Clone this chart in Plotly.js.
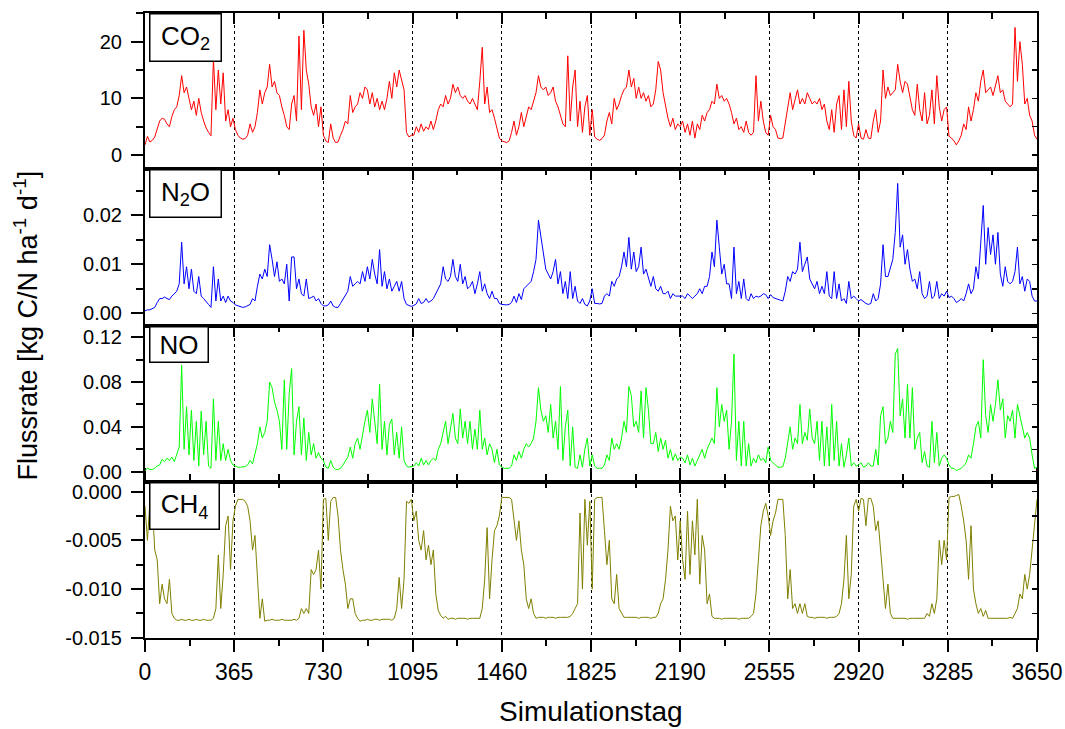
<!DOCTYPE html>
<html>
<head>
<meta charset="utf-8">
<script src="https://cdn.plot.ly/plotly-3.0.1.min.js"></script>
<style>html,body{margin:0;padding:0;background:#fff;}#chart{width:1065px;height:729px;}</style>
</head>
<body>
<div id="chart"></div>
<script>
// ---- data: daily flux values sampled every 10 simulation days (day 0 .. 3650) ----
const sampleStep = 10;

const co2Flux = [
 1.8,3.3,2.3,2.6,3.2,4.5,6.0,6.5,6.3,5.5,
 5.0,6.8,8.0,8.5,10.5,14.0,11.0,12.0,10.0,8.0,
 9.5,7.0,10.0,7.5,6.0,4.8,4.0,3.4,17.0,8.0,
 15.0,9.0,14.5,6.0,8.0,5.0,6.5,4.5,3.5,3.0,
 2.8,2.9,3.5,5.5,4.0,5.0,7.5,11.5,9.0,11.0,
 12.0,16.0,12.0,13.0,11.0,10.5,8.5,7.0,5.0,4.5,
 9.0,10.5,6.0,21.0,8.0,22.0,15.0,12.5,8.5,7.0,
 9.0,5.0,8.5,3.5,2.5,2.2,5.5,3.0,2.2,2.3,
 3.5,4.5,6.0,5.5,10.5,7.5,8.5,9.0,11.0,10.0,
 12.0,11.5,9.0,11.0,8.5,10.0,8.0,9.5,8.0,10.0,
 13.0,10.0,14.5,12.0,15.0,13.0,11.5,4.0,3.2,3.5,
 3.5,5.0,4.0,5.5,4.2,5.0,4.5,6.0,4.5,6.0,
 8.0,9.0,8.5,10.5,9.0,10.0,12.5,11.0,12.0,10.5,
 10.0,10.5,9.5,9.0,10.0,9.0,8.0,13.0,19.0,9.0,
 12.0,7.5,8.0,6.5,4.5,3.0,2.5,2.3,2.2,2.5,
 4.0,6.0,3.5,5.0,7.5,5.0,7.0,8.5,8.0,9.5,
 11.0,14.0,12.0,11.5,12.0,10.5,11.0,12.0,9.5,8.5,
 7.0,5.5,5.0,17.5,6.0,12.0,15.0,5.0,9.5,4.0,
 8.5,10.5,3.5,8.0,3.2,2.8,2.6,2.9,3.5,6.0,
 7.5,5.5,10.0,8.0,9.0,10.5,11.5,12.0,15.0,12.0,
 13.5,10.0,12.0,10.0,11.0,9.5,10.5,8.5,9.0,11.5,
 16.5,15.0,11.0,8.5,6.5,5.0,6.5,4.5,5.5,5.0,
 6.0,4.0,5.5,3.5,6.0,3.0,5.5,4.5,7.0,6.0,
 7.5,8.0,9.5,9.0,12.5,10.0,10.5,9.5,10.0,9.0,
 7.5,5.5,6.5,4.5,5.0,4.0,6.0,4.0,3.5,4.0,
 14.0,6.0,9.5,6.0,4.0,3.5,7.0,5.0,4.5,3.0,
 2.9,3.0,5.5,8.5,11.0,8.0,10.0,11.5,9.0,10.0,
 9.0,11.0,10.0,9.0,9.5,9.0,10.0,8.0,9.0,6.0,
 4.5,8.0,4.0,9.0,10.5,4.5,11.5,5.0,13.0,6.0,
 3.5,3.0,5.5,3.0,2.8,4.5,3.0,2.9,6.0,8.0,
 4.0,6.0,15.0,10.0,12.0,10.5,11.0,11.5,16.0,13.0,
 11.0,13.0,12.5,10.0,8.0,7.0,12.5,8.0,6.0,11.0,
 5.5,7.0,11.5,5.5,14.0,8.5,6.0,8.0,8.5,3.3,
 3.0,2.5,1.8,2.5,3.5,5.5,4.5,8.5,6.0,8.0,
 11.0,9.5,13.0,15.0,11.0,11.5,12.0,10.5,12.5,14.0,
 11.0,11.5,9.5,9.0,8.5,9.0,22.5,13.0,20.0,16.0,
 9.0,10.0,7.0,6.0,3.5,2.8
];

const n2oFlux = [
 .0005,.0007,.0007,.0009,.0012,.0022,.0030,.0030,.0033,.0030,
 .0028,.0035,.0040,.0045,.0060,.0145,.0060,.0095,.0050,.0090,
 .0045,.0040,.0075,.0035,.0030,.0025,.0018,.0012,.0095,.0025,
 .0070,.0025,.0035,.0022,.0035,.0025,.0022,.0017,.0015,.0013,
 .0012,.0013,.0015,.0018,.0030,.0025,.0055,.0080,.0070,.0090,
 .0075,.0140,.0110,.0075,.0105,.0065,.0070,.0060,.0100,.0025,
 .0115,.0115,.0050,.0070,.0040,.0035,.0070,.0030,.0032,.0035,
 .0025,.0030,.0020,.0015,.0015,.0017,.0025,.0015,.0012,.0012,
 .0020,.0028,.0035,.0045,.0075,.0055,.0060,.0065,.0060,.0085,
 .0065,.0095,.0070,.0110,.0080,.0060,.0130,.0055,.0085,.0050,
 .0070,.0045,.0055,.0065,.0045,.0065,.0030,.0018,.0016,.0014,
 .0016,.0019,.0030,.0020,.0022,.0030,.0022,.0025,.0030,.0040,
 .0050,.0060,.0095,.0070,.0065,.0075,.0110,.0075,.0065,.0100,
 .0060,.0075,.0050,.0055,.0065,.0040,.0060,.0085,.0045,.0060,
 .0040,.0030,.0045,.0030,.0030,.0020,.0018,.0017,.0017,.0018,
 .0022,.0035,.0022,.0040,.0028,.0050,.0055,.0060,.0065,.0085,
 .0110,.0190,.0155,.0125,.0090,.0080,.0070,.0085,.0110,.0060,
 .0085,.0040,.0065,.0030,.0085,.0030,.0055,.0025,.0020,.0030,
 .0018,.0015,.0025,.0050,.0020,.0020,.0019,.0020,.0035,.0040,
 .0035,.0065,.0055,.0070,.0075,.0095,.0125,.0095,.0155,.0090,
 .0125,.0085,.0095,.0135,.0080,.0090,.0070,.0055,.0075,.0050,
 .0045,.0055,.0040,.0040,.0045,.0030,.0040,.0035,.0035,.0035,
 .0035,.0030,.0040,.0035,.0030,.0035,.0040,.0050,.0040,.0055,
 .0055,.0075,.0125,.0095,.0190,.0135,.0080,.0100,.0060,.0060,
 .0030,.0135,.0040,.0065,.0030,.0070,.0030,.0025,.0040,.0030,
 .0035,.0033,.0035,.0040,.0038,.0030,.0038,.0032,.0030,.0028,
 .0027,.0025,.0045,.0075,.0065,.0085,.0080,.0090,.0145,.0085,
 .0100,.0115,.0070,.0060,.0050,.0065,.0040,.0055,.0040,.0085,
 .0035,.0030,.0085,.0030,.0060,.0025,.0030,.0020,.0065,.0030,
 .0035,.0030,.0025,.0028,.0024,.0020,.0018,.0020,.0040,.0025,
 .0030,.0060,.0140,.0075,.0075,.0095,.0110,.0165,.0265,.0135,
 .0160,.0100,.0130,.0090,.0065,.0070,.0050,.0085,.0040,.0030,
 .0035,.0065,.0030,.0035,.0065,.0030,.0040,.0035,.0045,.0032,
 .0035,.0030,.0022,.0025,.0030,.0025,.0040,.0060,.0040,.0050,
 .0095,.0070,.0145,.0220,.0100,.0175,.0120,.0160,.0100,.0165,
 .0080,.0055,.0095,.0065,.0060,.0065,.0085,.0135,.0060,.0075,
 .0045,.0070,.0065,.0035,.0025,.0025
];

const noFlux = [
 .001,.003,.002,.002,.003,.005,.006,.011,.009,.012,
 .010,.013,.009,.016,.022,.095,.020,.058,.015,.055,
 .010,.045,.005,.054,.015,.045,.005,.003,.065,.010,
 .045,.010,.025,.010,.020,.010,.006,.005,.004,.004,
 .004,.0045,.006,.010,.007,.015,.025,.040,.030,.035,
 .045,.080,.075,.062,.055,.045,.020,.082,.020,.070,
 .092,.015,.045,.058,.015,.048,.010,.035,.015,.025,
 .012,.017,.012,.010,.004,.003,.010,.004,.002,.002,
 .003,.006,.010,.013,.022,.012,.025,.030,.020,.033,
 .045,.055,.035,.065,.045,.025,.078,.020,.045,.015,
 .042,.047,.015,.035,.012,.040,.010,.005,.004,.0045,
 .005,.008,.005,.012,.006,.010,.006,.010,.012,.010,
 .020,.025,.035,.045,.025,.040,.052,.030,.025,.056,
 .030,.045,.025,.045,.020,.038,.020,.055,.020,.030,
 .015,.025,.020,.008,.020,.006,.004,.003,.003,.003,
 .005,.015,.010,.018,.012,.020,.025,.022,.025,.030,
 .045,.075,.055,.045,.050,.035,.060,.030,.045,.020,
 .076,.010,.040,.055,.005,.040,.004,.003,.015,.004,
 .020,.030,.005,.015,.005,.003,.003,.003,.006,.015,
 .010,.030,.020,.025,.020,.030,.045,.035,.076,.068,
 .040,.045,.035,.072,.030,.075,.055,.025,.025,.035,
 .018,.030,.020,.028,.012,.020,.010,.016,.010,.013,
 .012,.008,.015,.006,.012,.005,.010,.015,.020,.012,
 .020,.025,.030,.025,.075,.040,.060,.045,.055,.020,
 .045,.105,.010,.045,.005,.045,.005,.025,.005,.012,
 .008,.015,.010,.012,.008,.022,.010,.008,.006,.004,
 .004,.0045,.012,.025,.040,.020,.030,.025,.060,.025,
 .035,.028,.056,.030,.025,.045,.010,.045,.005,.040,
 .005,.060,.010,.045,.005,.025,.004,.015,.030,.005,
 .008,.005,.006,.008,.004,.005,.008,.005,.005,.020,
 .006,.050,.058,.025,.030,.045,.035,.105,.110,.050,
 .065,.030,.078,.030,.075,.020,.030,.035,.008,.018,
 .005,.004,.045,.008,.035,.005,.012,.015,.012,.006,
 .003,.003,.001,.002,.003,.005,.008,.015,.012,.025,
 .040,.045,.030,.100,.050,.035,.060,.045,.060,.082,
 .055,.065,.030,.050,.045,.055,.030,.060,.050,.040,
 .030,.035,.030,.015,.003,.004
];

const ch4Flux = [
 -.0015,-.0050,-.0010,-.0015,-.0060,-.0070,-.0115,-.0095,-.0110,-.0115,
 -.0090,-.0125,-.0130,-.0132,-.0132,-.0131,-.0132,-.0132,-.0131,-.0132,
 -.0132,-.0131,-.0132,-.0132,-.0131,-.0132,-.0132,-.0132,-.0130,-.0120,
 -.0065,-.0120,-.0085,-.0035,-.0025,-.0080,-.0030,-.0015,-.0008,-.0008,
 -.0008,-.0010,-.0015,-.0030,-.0060,-.0045,-.0085,-.0130,-.0110,-.0133,
 -.0132,-.0132,-.0131,-.0132,-.0132,-.0132,-.0131,-.0132,-.0132,-.0132,
 -.0132,-.0131,-.0132,-.0130,-.0120,-.0125,-.0120,-.0125,-.0080,-.0085,
 -.0080,-.0060,-.0100,-.0008,-.0007,-.0050,-.0010,-.0006,-.0006,-.0025,
 -.0060,-.0080,-.0095,-.0120,-.0110,-.0110,-.0125,-.0130,-.0133,-.0132,
 -.0132,-.0131,-.0132,-.0132,-.0131,-.0131,-.0132,-.0131,-.0131,-.0131,
 -.0131,-.0132,-.0130,-.0120,-.0088,-.0120,-.0090,-.0010,-.0012,-.0008,
 -.0030,-.0020,-.0050,-.0060,-.0040,-.0070,-.0055,-.0075,-.0060,-.0105,
 -.0122,-.0127,-.0130,-.0128,-.0131,-.0130,-.0130,-.0131,-.0130,-.0130,
 -.0130,-.0130,-.0131,-.0130,-.0130,-.0130,-.0130,-.0130,-.0120,-.0090,
 -.0037,-.0110,-.0070,-.0040,-.0035,-.0025,-.0006,-.0006,-.0006,-.0006,
 -.0008,-.0030,-.0050,-.0030,-.0060,-.0075,-.0110,-.0120,-.0110,-.0125,
 -.0130,-.0129,-.0129,-.0129,-.0130,-.0129,-.0129,-.0129,-.0130,-.0129,
 -.0129,-.0129,-.0129,-.0129,-.0128,-.0125,-.0120,-.0115,-.0022,-.0100,
 -.0008,-.0055,-.0010,-.0100,-.0008,-.0006,-.0006,-.0006,-.0040,-.0075,
 -.0050,-.0110,-.0115,-.0085,-.0120,-.0125,-.0129,-.0129,-.0129,-.0129,
 -.0129,-.0129,-.0130,-.0129,-.0129,-.0129,-.0129,-.0130,-.0129,-.0129,
 -.0125,-.0115,-.0110,-.0090,-.0060,-.0015,-.0030,-.0025,-.0070,-.0030,
 -.0070,-.0090,-.0020,-.0085,-.0030,-.0065,-.0008,-.0095,-.0045,-.0060,
 -.0115,-.0105,-.0128,-.0130,-.0130,-.0130,-.0131,-.0130,-.0130,-.0130,
 -.0130,-.0130,-.0130,-.0131,-.0130,-.0130,-.0130,-.0130,-.0128,-.0125,
 -.0105,-.0065,-.0035,-.0020,-.0012,-.0025,-.0045,-.0030,-.0022,-.0008,
 -.0008,-.0008,-.0045,-.0110,-.0080,-.0120,-.0115,-.0125,-.0115,-.0125,
 -.0115,-.0128,-.0129,-.0129,-.0130,-.0129,-.0129,-.0129,-.0129,-.0130,
 -.0129,-.0129,-.0129,-.0128,-.0125,-.0115,-.0090,-.0045,-.0110,-.0085,
 -.0015,-.0008,-.0020,-.0007,-.0008,-.0035,-.0007,-.0007,-.0015,-.0040,
 -.0030,-.0060,-.0090,-.0120,-.0095,-.0125,-.0130,-.0130,-.0130,-.0130,
 -.0130,-.0130,-.0131,-.0130,-.0130,-.0130,-.0130,-.0130,-.0130,-.0130,
 -.0125,-.0128,-.0115,-.0125,-.0110,-.0050,-.0075,-.0050,-.0070,-.0006,
 -.0005,-.0005,-.0004,-.0003,-.0015,-.0030,-.0050,-.0090,-.0035,-.0100,
 -.0115,-.0125,-.0120,-.0128,-.0122,-.0130,-.0130,-.0130,-.0130,-.0130,
 -.0130,-.0130,-.0130,-.0130,-.0129,-.0130,-.0125,-.0120,-.0105,-.0110,
 -.0085,-.0100,-.0085,-.0060,-.0040,-.0008
];

const panelLabels = ['CO<sub>2</sub>', 'N<sub>2</sub>O', 'NO', 'CH<sub>4</sub>'];
const co2TickVals = [0, 10, 20];
const co2TickText = ['0', '10', '20'];
const n2oTickVals = [0, 0.01, 0.02];
const n2oTickText = ['0.00', '0.01', '0.02'];
const noTickVals = [0, 0.04, 0.08, 0.12];
const noTickText = ['0.00', '0.04', '0.08', '0.12'];
const ch4TickVals = [-0.015, -0.010, -0.005, 0];
const ch4TickText = ['-0.015', '-0.010', '-0.005', '0.000'];
const xTitle = 'Simulationstag';
const yTitle = 'Flussrate [kg C/N ha<sup>-1</sup> d<sup>-1</sup>]';

// ---- build ----
const days = co2Flux.map((_, i) => i * sampleStep);
const FONT = 'Liberation Sans, Arial, Helvetica, sans-serif';

const series = [
  {y: co2Flux, color: '#ff0000', ax: 'y4'},
  {y: n2oFlux, color: '#0000ff', ax: 'y3'},
  {y: noFlux,  color: '#00ff00', ax: 'y2'},
  {y: ch4Flux, color: '#808000', ax: 'y'}
];
const traces = series.map(s => ({
  type: 'scatter', mode: 'lines', x: days, y: s.y, xaxis: 'x', yaxis: s.ax,
  line: {color: s.color, width: 1}, hoverinfo: 'skip', showlegend: false
}));
// empty helper traces that carry the inner tick axes (top and right of each panel)
[['x2','y5'],['x3','y6'],['x4','y7'],['x5','y8']].forEach(p => traces.push({
  type: 'scatter', mode: 'lines', x: [], y: [], xaxis: p[0], yaxis: p[1], hoverinfo: 'skip', showlegend: false
}));

const panels = [
  {id: 'yaxis',  dom: [0, 0.25],    range: [-0.01502, 0.00101], tv: ch4TickVals, tt: ch4TickText, minor: 0.0025},
  {id: 'yaxis2', dom: [0.25, 0.5],  range: [-0.009, 0.1305],   tv: noTickVals,  tt: noTickText,  minor: 0.02},
  {id: 'yaxis3', dom: [0.5, 0.75],  range: [-0.0025, 0.0294],  tv: n2oTickVals, tt: n2oTickText, minor: 0.005},
  {id: 'yaxis4', dom: [0.75, 1],    range: [-2.5, 25.05],      tv: co2TickVals, tt: co2TickText, minor: 5}
];

const layout = {
  width: 1065, height: 729,
  margin: {l: 145, r: 28, t: 13, b: 91, pad: 0},
  paper_bgcolor: '#ffffff', plot_bgcolor: '#ffffff',
  showlegend: false,
  font: {family: FONT, color: '#000', size: 20},
  xaxis: {
    domain: [0, 1], anchor: 'y', range: [0, 3650], autorange: false,
    tickmode: 'linear', tick0: 0, dtick: 365,
    ticks: 'outside', ticklen: 12, tickwidth: 2, tickcolor: '#000',
    tickfont: {size: 23, family: FONT}, ticklabelstandoff: 0,
    showline: true, linewidth: 2, linecolor: '#000', mirror: 'all',
    showgrid: true, gridcolor: '#000', griddash: 'dot', gridwidth: 1,
    zeroline: false,
    minor: {tickmode: 'linear', tick0: 0, dtick: 182.5, ticks: 'outside', ticklen: 6, tickwidth: 2, tickcolor: '#000', showgrid: false}
  },
  annotations: [],
};

panels.forEach((p, i) => {
  layout[p.id] = {
    domain: p.dom, anchor: 'x', range: p.range, autorange: false,
    tickmode: 'array', tickvals: p.tv, ticktext: p.tt,
    ticks: 'outside', ticklen: 12, tickwidth: 2, tickcolor: '#000',
    tickfont: {size: 20, family: FONT}, ticklabelstandoff: 5,
    showline: true, linewidth: 2, linecolor: '#000', mirror: true,
    showgrid: false, zeroline: false,
    minor: {tickmode: 'linear', tick0: 0, dtick: p.minor, ticks: 'outside', ticklen: 7, tickwidth: 2, tickcolor: '#000', showgrid: false}
  };
  const xo = 'xaxis' + (i + 2), yo = 'yaxis' + (i + 5);
  const baseY = i === 0 ? 'y' : 'y' + (i + 1);
  layout[xo] = {
    overlaying: 'x', anchor: 'y' + (i + 5), side: 'top', range: [0, 3650], autorange: false,
    tickmode: 'linear', tick0: 0, dtick: 365, ticks: 'inside', ticklen: 11, tickwidth: 2, tickcolor: '#000',
    showticklabels: false, showgrid: false, zeroline: false, showline: false,
    minor: {tickmode: 'linear', tick0: 0, dtick: 182.5, ticks: 'inside', ticklen: 6, tickwidth: 2, tickcolor: '#000', showgrid: false}
  };
  layout[yo] = {
    overlaying: baseY, anchor: 'x' + (i + 2), side: 'right', range: p.range, autorange: false,
    tickmode: 'linear', tick0: 0, dtick: p.minor, ticks: 'inside', ticklen: 5, tickwidth: 1.5, tickcolor: '#000',
    showticklabels: false, showgrid: false, zeroline: false, showline: false
  };
});

// panel name boxes (top-left of each panel)
const boxTops = [1, 0.75, 0.5, 0.25];
const boxSizes = [[66, 42], [66, 42], [53, 30], [64, 41]];
panelLabels.forEach((t, i) => {
  layout.annotations.push({
    xref: 'paper', yref: 'paper', x: 0.0045, y: boxTops[i], xanchor: 'left', yanchor: 'top',
    text: t, showarrow: false, font: {size: 26, family: FONT, color: '#000'},
    width: boxSizes[i][0], height: boxSizes[i][1], align: 'center', valign: 'middle',
    bgcolor: '#ffffff', bordercolor: '#000', borderwidth: 1.5, borderpad: 2
  });
});
// axis titles
layout.annotations.push({
  xref: 'paper', yref: 'paper', x: -0.1345, y: 0.5, xanchor: 'center', yanchor: 'middle',
  text: yTitle, textangle: -90, showarrow: false, font: {size: 27, family: FONT, color: '#000'}
});
layout.annotations.push({
  xref: 'paper', yref: 'paper', x: 0.5, y: -0.118, xanchor: 'center', yanchor: 'middle',
  text: xTitle, showarrow: false, font: {size: 28, family: FONT, color: '#000'}
});

Plotly.newPlot('chart', traces, layout, {staticPlot: true, displayModeBar: false});
</script>
</body>
</html>
